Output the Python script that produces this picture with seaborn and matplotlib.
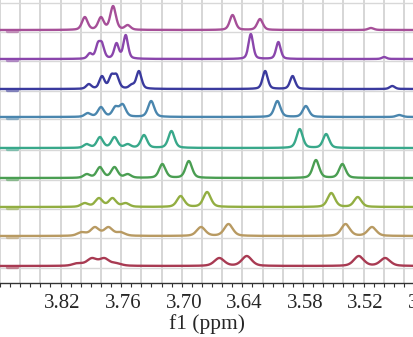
import numpy as np
import pandas as pd
import matplotlib
matplotlib.use("Agg")
import matplotlib.pyplot as plt
import matplotlib.transforms as mtransforms
import seaborn as sns

# ---- data: peak positions (ppm) and apparent peak heights (top -> bottom) ----
trace_names = ["t1", "t2", "t3", "t4", "t5", "t6", "t7", "t8", "t9"]
baselines = [253, 224, 194, 166, 135, 105, 76, 47, 17]  # baseline levels (px units above axis)

peaks_t1 = [3.796, 3.780, 3.768, 3.7535, 3.6497, 3.6225, 3.5126]
height_t1 = [13, 13, 24, 5, 15, 11, 2]
peaks_t2 = [3.791, 3.783, 3.779, 3.7646, 3.7555, 3.6316, 3.6043, 3.4995]
height_t2 = [6, 17, 17, 16, 24, 25, 17, 2]
peaks_t3 = [3.792, 3.779, 3.7696, 3.7646, 3.7495, 3.7424, 3.6174, 3.5902, 3.4915]
height_t3 = [5, 13, 15, 15, 5, 18, 18, 13, 3]
peaks_t4 = [3.793, 3.780, 3.7656, 3.7585, 3.7303, 3.6053, 3.5771, 3.4844]
height_t4 = [4, 10, 11, 13, 16, 16, 11, 2]
peaks_t5 = [3.794, 3.781, 3.7666, 3.7535, 3.7374, 3.7102, 3.5832, 3.557]
height_t5 = [4, 11, 11, 4, 13, 17, 19, 14]
peaks_t6 = [3.794, 3.781, 3.7666, 3.7535, 3.7192, 3.693, 3.5671, 3.5409]
height_t6 = [4, 11, 11, 4, 14, 17, 18, 14]
peaks_t7 = [3.796, 3.782, 3.7686, 3.7555, 3.7011, 3.6749, 3.5519, 3.5257]
height_t7 = [4, 9, 9, 4, 11, 15, 14, 10]
peaks_t8 = [3.799, 3.786, 3.7726, 3.7605, 3.6809, 3.6537, 3.5378, 3.5116]
height_t8 = [4, 9, 9, 4, 9, 12, 12, 9]
peaks_t9 = [3.803, 3.789, 3.7767, 3.7645, 3.6628, 3.6356, 3.5247, 3.4985]
height_t9 = [3, 8, 8, 3, 8, 10, 10, 8]
linewidths = [0.0033, 0.0027, 0.0030, 0.0036, 0.0036, 0.0038, 0.0043, 0.0050, 0.0058]

colors = ["#a64f98", "#8a46ac", "#3a3a9e", "#4a86ae", "#38a88a",
          "#4a9e52", "#92ae42", "#b89a62", "#a83a52"]

tick_vals = [3.82, 3.76, 3.70, 3.64, 3.58, 3.52]
tick_labels = ["3.82", "3.76", "3.70", "3.64", "3.58", "3.52"]
edge_tick_val = 3.46
edge_tick_label = "3.46"
xlabel = "f1 (ppm)"

all_peaks = [peaks_t1, peaks_t2, peaks_t3, peaks_t4, peaks_t5,
             peaks_t6, peaks_t7, peaks_t8, peaks_t9]
all_heights = [height_t1, height_t2, height_t3, height_t4, height_t5,
               height_t6, height_t7, height_t8, height_t9]


def shape(d, w, eta=0.4):
    lor = 1 / (1 + (d / w) ** 2)
    gau = np.exp(-np.log(2) * (d / w) ** 2)
    return eta * lor + (1 - eta) * gau


# ---- build spectra: pseudo-Voigt lines whose summed curve reaches the read heights ----
ppm = np.linspace(3.465, 3.88, 2000)
frames = []
for name, base, pk, ht, w in zip(trace_names, baselines, all_peaks, all_heights, linewidths):
    pk = np.array(pk)
    A = shape(pk[:, None] - pk[None, :], w)
    amps = np.clip(np.linalg.solve(A, np.array(ht, float)), 0.8, None)
    y = np.zeros_like(ppm)
    for p, a in zip(pk, amps):
        y += a * shape(ppm - p, w)
    frames.append(pd.DataFrame({"ppm": ppm, "y": base + y, "trace": name}))
df = pd.concat(frames, ignore_index=True)

# ---- figure ----
sns.set_theme(style="white")
plt.rcParams["font.family"] = ["Liberation Serif", "DejaVu Serif"]

W, H = 414, 337
fig = plt.figure(figsize=(W / 100, H / 100), dpi=100)
ax_bottom_px = 283
ax = fig.add_axes([0, 1 - ax_bottom_px / H, 1, ax_bottom_px / H])
ax.set_xlim(3.873, 3.474)
ax.set_ylim(0, ax_bottom_px)

# grid
for g in np.arange(3.46, 3.90, 0.02):
    ax.axvline(g, color="#d0d0d0", lw=1.2, zorder=0)
for b in baselines:
    ax.axhline(b - 2, color="#d8d8d8", lw=1.0, zorder=0)
ax.axhline(280, color="#d8d8d8", lw=1.0, zorder=0)

sns.lineplot(data=df, x="ppm", y="y", hue="trace", palette=colors,
             hue_order=trace_names, estimator=None, sort=False,
             lw=1.7, legend=False, ax=ax, zorder=3)

# small tag marks at the left end of each trace
for b, c in zip(baselines, colors):
    ax.plot([3.873, 3.863], [b - 1, b - 1], color=c, lw=2.4, alpha=0.55, zorder=4)

for s in ["left", "right", "top"]:
    ax.spines[s].set_visible(False)
ax.spines["bottom"].set_color("#333333")
ax.spines["bottom"].set_linewidth(1.0)
ax.set_yticks([])
ax.set_xticks(tick_vals)
ax.set_xticklabels(tick_labels)
ax.set_xticks(np.arange(3.47, 3.89, 0.01), minor=True)
ax.tick_params(axis="x", which="both", direction="out", length=3, width=0.8,
               color="#333333", bottom=True, labelsize=15, pad=5)
# shift tick labels slightly right, as in the reference
offset = mtransforms.ScaledTranslation(2 / 100, 0, fig.dpi_scale_trans)
for lab in ax.get_xticklabels():
    lab.set_transform(lab.get_transform() + offset)

# partially visible label at the right edge
trans = mtransforms.blended_transform_factory(ax.transData, ax.transAxes) + offset
ax.text(edge_tick_val, 0, edge_tick_label, transform=trans, fontsize=15,
        ha="center", va="top", clip_on=False, color="#262626")
# position it like the other tick labels
fig.canvas.draw()
ref_lab = ax.get_xticklabels()[0]
bb = ref_lab.get_window_extent()
ax.texts[-1].set_position((edge_tick_val, ax.transAxes.inverted().transform((0, bb.y1))[1]))

ax.set_xlabel(xlabel, fontsize=15.5, labelpad=1)
ax.set_ylabel("")

fig.savefig("out.png", dpi=100)
